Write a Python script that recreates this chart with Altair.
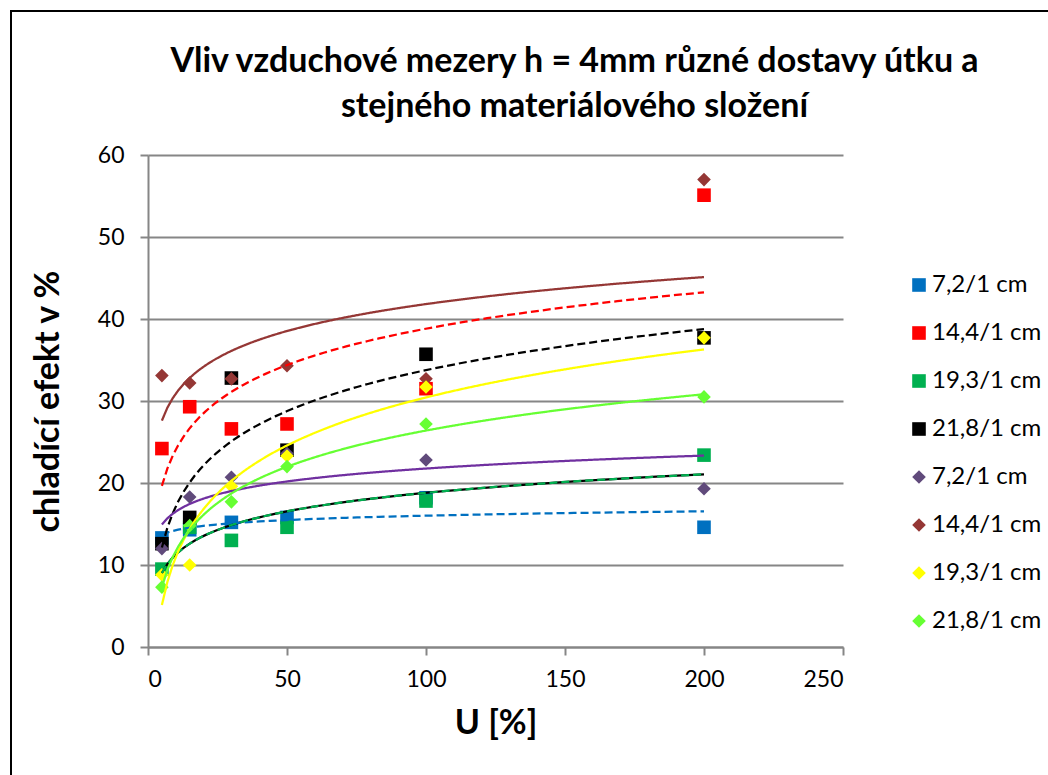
import altair as alt
import pandas as pd

# ---- data ----
u_values = [5, 15, 30, 50, 100, 200]

series_keys = [
    "7,2/1 cm|s", "14,4/1 cm|s", "19,3/1 cm|s", "21,8/1 cm|s",
    "7,2/1 cm|d", "14,4/1 cm|d", "19,3/1 cm|d", "21,8/1 cm|d",
]
sq_72 = [13.3, 14.3, 15.2, 15.8, 18.2, 14.6]
sq_144 = [24.2, 29.3, 26.6, 27.2, 31.5, 55.1]
sq_193 = [9.5, 14.6, 13.0, 14.6, 17.8, 23.4]
sq_218 = [12.6, 15.8, 32.8, 24.0, 35.7, 37.7]
di_72 = [12.0, 18.3, 20.7, 23.6, 22.8, 19.3]
di_144 = [33.1, 32.2, 32.7, 34.3, 32.7, 57.0]
di_193 = [8.8, 10.0, 19.6, 23.3, 31.7, 37.7]
di_218 = [7.3, 14.8, 17.7, 22.0, 27.2, 30.5]
series_values = [sq_72, sq_144, sq_193, sq_218, di_72, di_144, di_193, di_218]

marker_colors = ["#0070C0", "#FF0000", "#00B050", "#000000",
                 "#604A7B", "#953735", "#FFFF00", "#66FF33"]
marker_shapes = ["square"] * 4 + ["diamond"] * 4
marker_sizes = [185, 185, 185, 185, 280, 170, 160, 160]
line_colors = ["#0070C0", "#FF0000", "#00B050", "#000000",
               "#7030A0", "#953735", "#FFFF00", "#66FF33"]
line_dashes = [[8, 4]] * 4 + [[1, 0]] * 4

title_lines = ["Vliv vzduchové mezery h = 4mm různé dostavy útku a",
               "stejného materiálového složení"]

rows = []
for key, vals in zip(series_keys, series_values):
    for u, v in zip(u_values, vals):
        rows.append({"series": key, "U": u, "value": v})
df = pd.DataFrame(rows)

FONT = "Lato"

x_enc = alt.X("U:Q", scale=alt.Scale(domain=[0, 250], nice=False),
              axis=alt.Axis(values=[0, 50, 100, 150, 200, 250], title="U [%]",
                            grid=False, labelPadding=13, titlePadding=15))
y_enc = alt.Y("value:Q", scale=alt.Scale(domain=[0, 60], nice=False),
              axis=alt.Axis(values=[0, 10, 20, 30, 40, 50, 60],
                            title="chladící efekt v %", grid=True,
                            labelPadding=16, titlePadding=32))

border = alt.Chart(alt.Data(values=[{"a": 1}])).mark_rect(
    fillOpacity=0, stroke="black", strokeWidth=2
).encode(
    x=alt.value(-137), y=alt.value(-144),
    x2=alt.value(1048 - 148 + 20), y2=alt.value(775 - 155 + 20),
)

points = alt.Chart(df).mark_point(filled=True, opacity=1).encode(
    x=x_enc,
    y=y_enc,
    color=alt.Color("series:N", sort=series_keys, title=None,
                    scale=alt.Scale(domain=series_keys, range=marker_colors),
                    legend=alt.Legend(labelExpr="split(datum.label, '|')[0]")),
    shape=alt.Shape("series:N", sort=series_keys, title=None,
                    scale=alt.Scale(domain=series_keys, range=marker_shapes),
                    legend=alt.Legend(labelExpr="split(datum.label, '|')[0]")),
    size=alt.Size("series:N", sort=series_keys,
                  scale=alt.Scale(domain=series_keys, range=marker_sizes),
                  legend=None),
    order=alt.Order("series_order:Q"),
).transform_calculate(
    series_order="indexof(" + str(series_keys).replace("'", '"') + ", datum.series)"
)

black_under = alt.Chart(df).transform_filter(
    alt.datum.series == "19,3/1 cm|s"
).transform_regression(
    "U", "value", method="log"
).mark_line(color="black", strokeWidth=2.25).encode(
    x="U:Q", y="value:Q"
)

trends = alt.Chart(df).transform_regression(
    "U", "value", method="log", groupby=["series"]
).mark_line(strokeWidth=2.25).encode(
    x="U:Q",
    y="value:Q",
    stroke=alt.Stroke("series:N", scale=alt.Scale(domain=series_keys, range=line_colors),
                      legend=None),
    strokeDash=alt.StrokeDash("series:N", scale=alt.Scale(domain=series_keys, range=line_dashes),
                              legend=None),
)

chart = alt.layer(border, points, black_under, trends).properties(
    width=695,
    height=492,
    autosize=alt.AutoSizeParams(type="none"),
    padding={"left": 148, "top": 155, "right": 205, "bottom": 128},
    title=alt.TitleParams(text=title_lines, font=FONT, fontSize=34, fontWeight="bold",
                          anchor="middle", frame="group", dx=79, dy=148, offset=34,
                          lineHeight=45, color="black"),
).configure_view(
    stroke=None
).configure_axis(
    labelFont=FONT, labelFontSize=23, labelColor="black",
    titleFont=FONT, titleFontSize=34, titleFontWeight="bold", titleColor="black",
    domainColor="#868686", domainWidth=2, tickColor="#868686", tickWidth=2, tickSize=8,
    gridColor="#868686", gridWidth=2,
).configure_legend(
    orient="none", legendX=759, legendY=118, direction="vertical",
    labelFont=FONT, labelFontSize=24, labelColor="black", labelOffset=1,
    symbolSize=190, symbolStrokeWidth=0, rowPadding=24,
)

chart.save("out.html", embed_options={"renderer": "svg", "actions": False})
